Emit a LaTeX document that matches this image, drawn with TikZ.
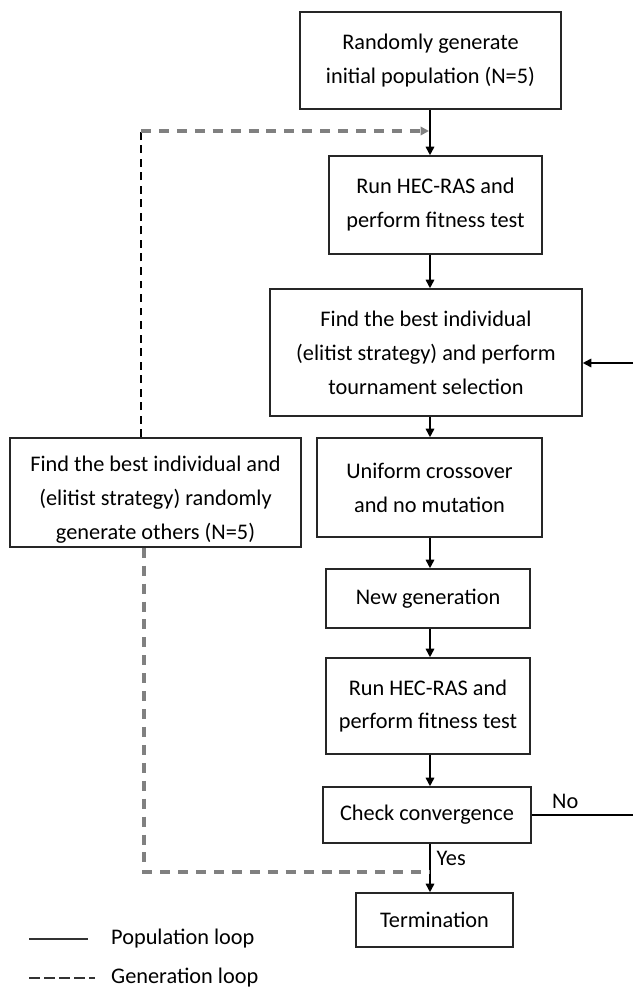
\documentclass[tikz,border=0pt]{standalone}
\usepackage{fontspec}
\setmainfont{Carlito}
\usetikzlibrary{arrows.meta}

\begin{document}
\begin{tikzpicture}[x=0.02cm,y=-0.02cm,
 stage/.style ={draw=black!85,line width=0.9pt,align=center,inner sep=0pt,font=\fontsize{12.7}{19.3}\selectfont},
 population/.style ={-{Triangle[length=1.7mm,width=1.7mm]},draw=black,line width=0.9pt},
 generation/.style ={draw=black!50,line width=1.9pt,dash pattern=on 5.7pt off 4.5pt},
 note/.style ={font=\fontsize{12.7}{15}\selectfont}
 ]
\useasboundingbox (0,0) rectangle (633,987);
%points used by the loops
\coordinate (colx) at (430,0);
\coordinate (noend) at (633,815);
\coordinate (backin) at (633,363);
\coordinate (topturn) at (141,131);
\coordinate (topin) at (429,131);
\coordinate (lowturn) at (144,872);
\coordinate (lowin) at (430,872);
%draw stages
\node[stage,minimum width=5.22cm,minimum height=1.94cm] (init) at (430.5,60.5) {Randomly generate\\initial population (N=5)};
\node[stage,minimum width=4.26cm,minimum height=1.96cm] (run1) at (435.5,205) {Run HEC-RAS and\\perform fitness test};
\node[stage,minimum width=6.24cm,minimum height=2.54cm] (best) at (426,352.5) {Find the best individual\\(elitist strategy) and perform\\tournament selection};
\node[stage,minimum width=4.5cm,minimum height=1.98cm] (cross) at (429.5,487.5) {Uniform crossover\\and no mutation};
\node[stage,minimum width=4.08cm,minimum height=1.18cm] (newgen) at (428,598.5) {New generation};
\node[stage,minimum width=4.08cm,minimum height=1.92cm] (run2) at (428,706) {Run HEC-RAS and\\perform fitness test};
\node[stage,minimum width=4.16cm,minimum height=1.12cm] (conv) at (427,815) {Check convergence};
\node[stage,minimum width=3.14cm,minimum height=1.08cm] (term) at (434.5,920) {Termination};
%the left box, its text sits low
\node[stage,minimum width=5.82cm,minimum height=2.18cm] (elite) at (155.5,492.5) {};
\node[stage,draw=none] (elitetext) at (155.5,500) {Find the best individual and\\(elitist strategy) randomly\\generate others (N=5)};
%draw population loop
\draw[population] (init.south -| colx) -- (run1.north -| colx);
\draw[population] (run1.south -| colx) -- (best.north -| colx);
\draw[population] (best.south -| colx) -- (cross.north -| colx);
\draw[population] (cross.south -| colx) -- (newgen.north -| colx);
\draw[population] (newgen.south -| colx) -- (run2.north -| colx);
\draw[population] (run2.south -| colx) -- (conv.north -| colx);
\draw[population] (conv.south -| colx) -- (term.north -| colx) node [pos=0.3, right, note] {Yes};
\draw[population,-] (conv.east) -- (noend) node [pos=0.33, above, note] {No};
\draw[population] (backin) -- (best.east |- backin);
%draw generation loop
\draw[draw=black,line width=0.6pt,dash pattern=on 4.5pt off 3.2pt] (elite.north -| topturn) -- (topturn);
\draw[generation,-{Triangle[length=1.7mm,width=1.7mm,fill=black!50]}] (topturn) -- (topin);
\draw[generation] (elite.south -| lowturn) -- (lowturn) -- (lowin);
%draw legend
\draw[draw=black!80,line width=0.9pt] (29,939) -- (88,939);
\node[note,anchor=west] (poplabel) at (105,939) {Population loop};
\draw[draw=black!80,line width=0.9pt,dash pattern=on 6pt off 2.6pt] (29,978) -- (95,978);
\node[note,anchor=west] (genlabel) at (105,978) {Generation loop};
\end{tikzpicture}
\end{document}
